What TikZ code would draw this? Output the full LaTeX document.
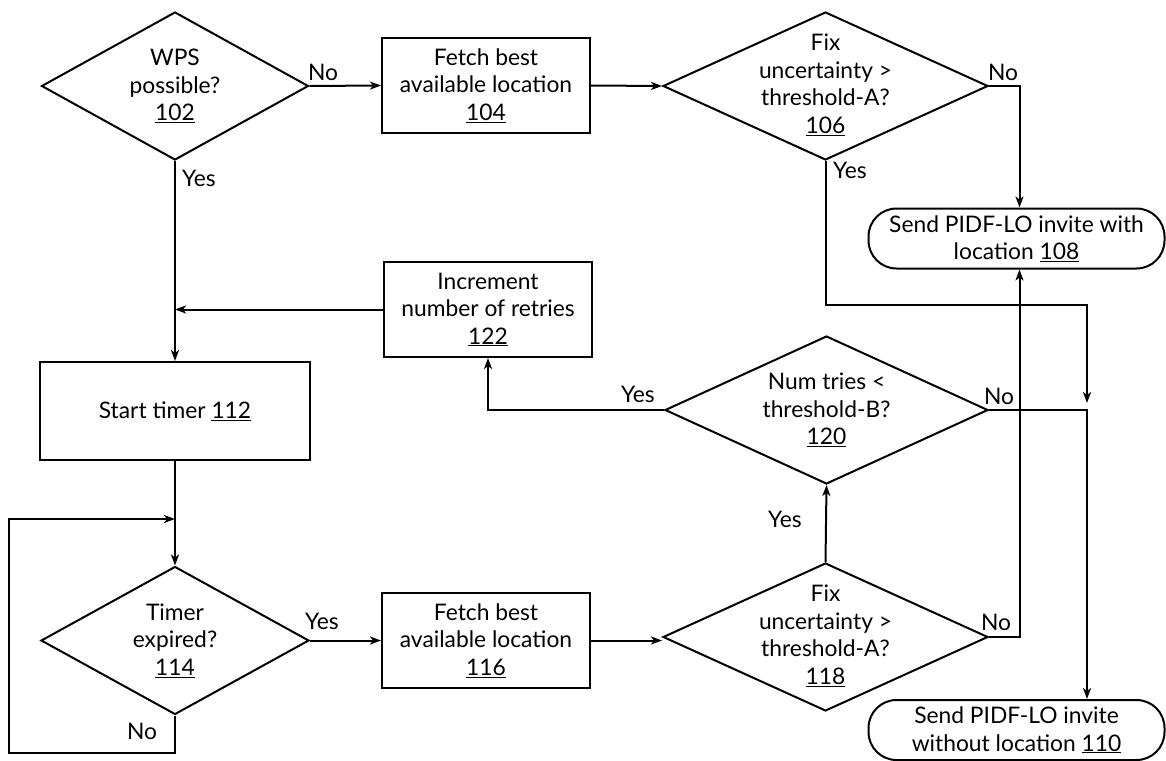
\documentclass[tikz,border=0pt]{standalone}
\usepackage{fontspec}
\setmainfont{Lato}
\usetikzlibrary{shapes.geometric,arrows.meta,calc}
\begin{document}
\begin{tikzpicture}[x=1pt,y=-1pt,
  every node/.style={font=\fontsize{22.8pt}{27.5pt}\selectfont},
  ln/.style={line width=2pt, line join=miter},
  arr/.style={ln, -{Stealth[length=11pt,width=8pt,inset=3pt]}},
  boxnode/.style={draw, ln, rectangle, align=center, inner sep=0pt, minimum width=208pt, minimum height=95pt},
  decnode/.style={draw, ln, diamond, aspect=2, inner sep=0pt, minimum width=#1, minimum height=148pt},
  dectext/.style={align=center, inner sep=0pt},
  termnode/.style={draw, ln, rectangle, rounded corners=28pt, align=center, inner sep=0pt, minimum width=296pt, minimum height=60pt},
  lbl/.style={inner sep=0pt}
]
\useasboundingbox (0,0) rectangle (1166,760);
% nodes
\node[decnode=267pt] (d102) at (175,86) {};
\node[dectext] (x102) at (d102.center) {WPS\\possible?\\\underline{102}};
\node[boxnode] (b104) at (486,85.5) {Fetch best\\available location\\\underline{104}};
\node[decnode=325pt] (d106) at (825.5,86) {};
\node[dectext] (x106) at ([yshift=1pt]d106.center) {Fix\\uncertainty >\\threshold-A?\\\underline{106}};
\node[termnode] (t108) at (1016.5,238.5) {Send PIDF-LO invite with\\location \underline{108}};
\node[boxnode] (b122) at (488,309.5) {Increment\\number of retries\\\underline{122}};
\node[boxnode, minimum width=270pt, minimum height=98pt] (b112) at (175,411) {Start timer \underline{112}};
\node[decnode=323pt] (d120) at (826.5,410) {};
\node[dectext] (x120) at (d120.center) {Num tries <\\threshold-B?\\\underline{120}};
\node[decnode=268pt] (d114) at (175,640.5) {};
\node[dectext] (x114) at (d114.center) {Timer\\expired?\\\underline{114}};
\node[boxnode] (b116) at (486,640.5) {Fetch best\\available location\\\underline{116}};
\node[decnode=325pt] (d118) at (825.5,637) {};
\node[dectext] (x118) at ([yshift=1pt]d118.center) {Fix\\uncertainty >\\threshold-A?\\\underline{118}};
\node[termnode] (t110) at (1016.5,730) {Send PIDF-LO invite\\without location \underline{110}};
% helper coordinates
\coordinate (colA) at (1019.5,0);
\coordinate (colB) at (1087,0);
\coordinate (r305) at (0,305);
\coordinate (j1) at (1087,410);
\coordinate (lb) at (9,753);
\coordinate (jl) at (175,519);
% connectors
\draw[arr] (d102.east) -- (b104.west);
\draw[arr] (b104.east) -- (d106.west);
\draw[arr] (d106.east) -| (colA |- t108.north);
\draw[arr, shorten >=7pt] (d106.south) |- (colB |- r305) -- (j1);
\draw[arr] (d120.east) -- (j1) -- (j1 |- t110.north);
\draw[arr] (d118.east) -| (colA |- t108.south);
\draw[arr] (d118.north) -- (d120.south);
\draw[arr] (d120.west) -| (b122.south);
\draw[arr] (b122.west) -- (b122.west -| d102.south);
\draw[arr] (d102.south) -- (b112.north);
\draw[arr] (b112.south) -- (d114.north);
\draw[arr] (d114.south) |- (lb) |- (jl);
\draw[arr] (d114.east) -- (b116.west);
\draw[arr] (b116.east) -- (b116.east -| d118.west);
% labels
\node[lbl] (l1) at (323,72) {No};
\node[lbl] (l2) at (199,178) {Yes};
\node[lbl] (l3) at (1003,72) {No};
\node[lbl] (l4) at (850,170) {Yes};
\node[lbl] (l5) at (999,396) {No};
\node[lbl] (l6) at (638,394) {Yes};
\node[lbl] (l7) at (785,519) {Yes};
\node[lbl] (l8) at (996,622) {No};
\node[lbl] (l9) at (322,621) {Yes};
\node[lbl] (l10) at (142,731) {No};
\end{tikzpicture}
\end{document}
